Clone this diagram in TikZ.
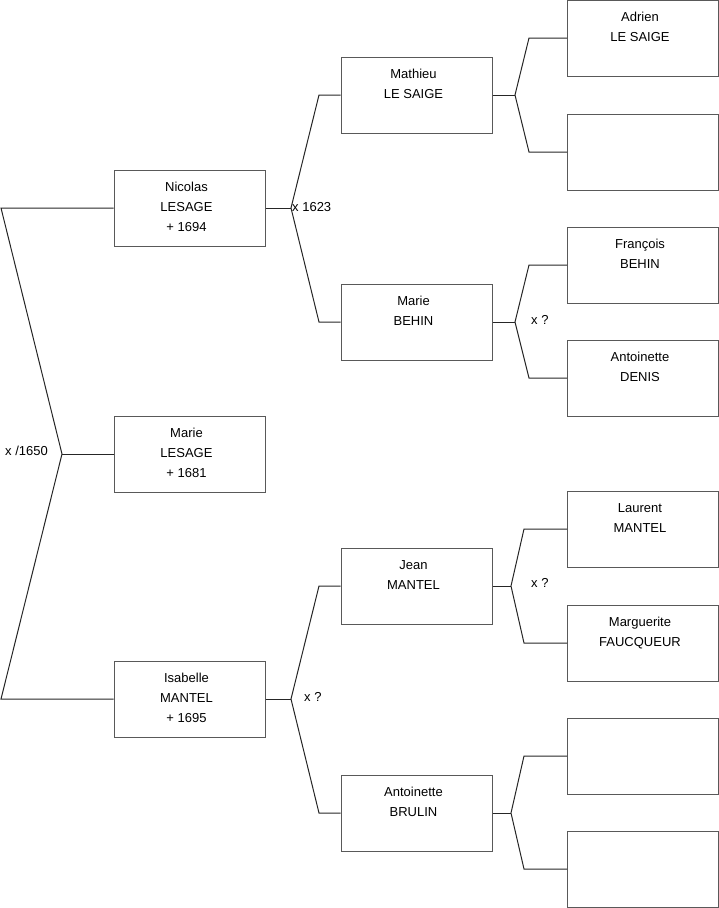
\documentclass[tikz,border=0pt]{standalone}
\usepackage{fontspec}
\setmainfont{Liberation Sans}
\begin{document}
\begin{tikzpicture}[x=1pt,y=-1pt,
  person/.style={draw=black!65, line width=1pt, fill=white, minimum width=151pt, minimum height=76pt,
    inner sep=0pt, anchor=center},
  three/.style={align=center, font=\fontsize{13}{20}\selectfont, inner sep=0pt, anchor=center, xshift=-3pt, yshift=0.5pt},
  two/.style={three, yshift=10pt},
  link/.style={draw=black!85, line width=1pt},
  lbl/.style={font=\fontsize{13}{15}\selectfont, inner sep=0pt}]
\useasboundingbox (0,0) rectangle (719,908);
% generation 1
\node[person] (nic) at (189.5,208) {};
\node[person] (mar) at (189.5,454) {};
\node[person] (isa) at (189.5,699) {};
\node[three] (nict) at (nic.center) {\strut Nicolas\\LESAGE\\+ 1694\strut};
\node[three] (mart) at (mar.center) {\strut Marie\\LESAGE\\+ 1681\strut};
\node[three] (isat) at (isa.center) {\strut Isabelle\\MANTEL\\+ 1695\strut};
% generation 2
\node[person] (mat) at (416.5,95) {};
\node[person] (beh) at (416.5,322) {};
\node[person] (jea) at (416.5,586) {};
\node[person] (bru) at (416.5,813) {};
\node[two] (matt) at (mat.center) {\strut Mathieu\\LE SAIGE\strut};
\node[two] (beht) at (beh.center) {\strut Marie\\BEHIN\strut};
\node[two] (jeat) at (jea.center) {\strut Jean\\MANTEL\strut};
\node[two] (brut) at (bru.center) {\strut Antoinette\\BRULIN\strut};
% generation 3
\node[person] (adr) at (643,38) {};
\node[person] (e1) at (643,152) {};
\node[person] (fra) at (643,265) {};
\node[person] (ant) at (643,378) {};
\node[person] (lau) at (643,529) {};
\node[person] (mag) at (643,643) {};
\node[person] (e2) at (643,756) {};
\node[person] (e3) at (643,869) {};
\node[two] (adrt) at (adr.center) {\strut Adrien\\LE SAIGE\strut};
\node[two] (frat) at (fra.center) {\strut François\\BEHIN\strut};
\node[two] (antt) at (ant.center) {\strut Antoinette\\DENIS\strut};
\node[two] (laut) at (lau.center) {\strut Laurent\\MANTEL\strut};
\node[two] (magt) at (mag.center) {\strut Marguerite\\FAUCQUEUR\strut};
% left bracket
\coordinate (L1) at (1,208);
\coordinate (LT) at (62,454);
\coordinate (L2) at (1,699);
\draw[link] (nic.west) -- (L1) -- (LT) -- (L2) -- (isa.west);
\draw[link] (LT) -- (mar.west);
\node[lbl, anchor=west] (l0) at (5,451) {x /1650};
% Nicolas parents
\coordinate (N0) at (291,208);
\coordinate (N1) at (319,95);
\coordinate (N2) at (319,322);
\draw[link] (nic.east) -- (N0);
\draw[link] (mat.west) -- (N1) -- (N0) -- (N2) -- (beh.west);
\node[lbl, anchor=west] (l1) at (292,207) {x 1623};
% Isabelle parents
\coordinate (I0) at (291,699);
\coordinate (I1) at (319,586);
\coordinate (I2) at (319,813);
\draw[link] (isa.east) -- (I0);
\draw[link] (jea.west) -- (I1) -- (I0) -- (I2) -- (bru.west);
\node[lbl, anchor=west] (l2) at (304,697) {x ?};
% Mathieu parents
\coordinate (M0) at (515,95);
\coordinate (M1) at (529,38);
\coordinate (M2) at (529,152);
\draw[link] (mat.east) -- (M0);
\draw[link] (adr.west) -- (M1) -- (M0) -- (M2) -- (e1.west);
% Marie BEHIN parents
\coordinate (B0) at (515,322);
\coordinate (B1) at (529,265);
\coordinate (B2) at (529,378);
\draw[link] (beh.east) -- (B0);
\draw[link] (fra.west) -- (B1) -- (B0) -- (B2) -- (ant.west);
\node[lbl, anchor=west] (l3) at (531,320) {x ?};
% Jean parents
\coordinate (J0) at (511,586);
\coordinate (J1) at (524,529);
\coordinate (J2) at (524,643);
\draw[link] (jea.east) -- (J0);
\draw[link] (lau.west) -- (J1) -- (J0) -- (J2) -- (mag.west);
\node[lbl, anchor=west] (l4) at (531,583) {x ?};
% Antoinette BRULIN parents
\coordinate (A0) at (511,813);
\coordinate (A1) at (524,756);
\coordinate (A2) at (524,869);
\draw[link] (bru.east) -- (A0);
\draw[link] (e2.west) -- (A1) -- (A0) -- (A2) -- (e3.west);
\end{tikzpicture}
\end{document}
